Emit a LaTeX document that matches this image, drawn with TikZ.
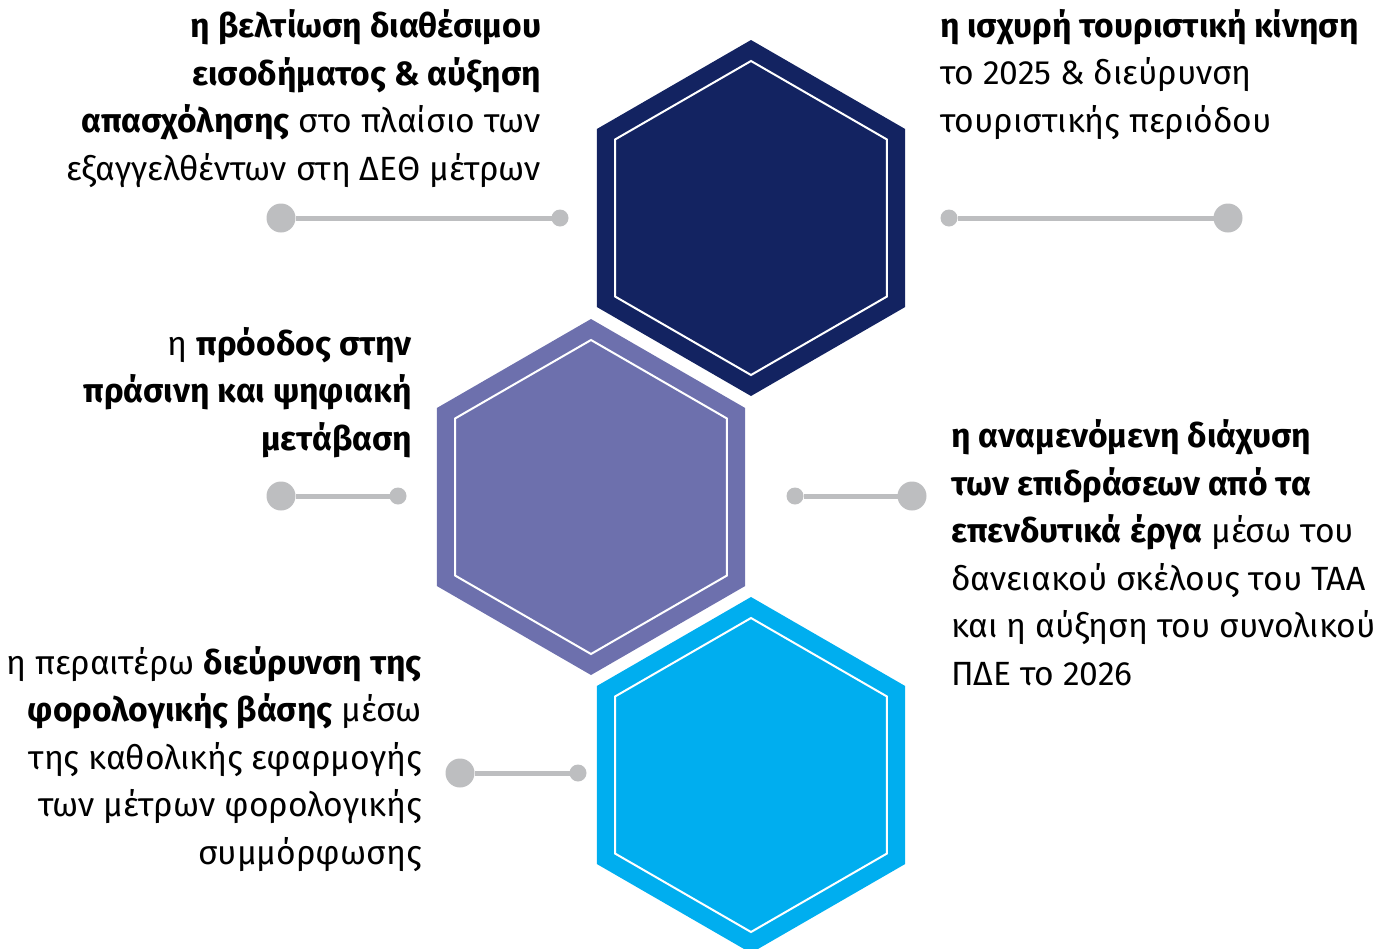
\documentclass[tikz,border=0pt]{standalone}
\usepackage{fontspec}
\setmainfont{Fira Sans}
\definecolor{hexnavy}{HTML}{132361}
\definecolor{hexpurple}{HTML}{6D70AD}
\definecolor{hexblue}{HTML}{00AEEF}
\definecolor{linkgray}{HTML}{BDBEC0}
\newcommand\drawhexagon[2]{%
  \fill[#2] (#1) +(90:178) -- +(30:178) -- +(-30:178) -- +(-90:178) -- +(-150:178) -- +(150:178) -- cycle;
  \draw[white, line width=2pt, line join=miter] (#1) +(90:157) -- +(30:157) -- +(-30:157) -- +(-90:157) -- +(-150:157) -- +(150:157) -- cycle;
}
\tikzset{
  bigdot/.style={circle, fill=linkgray, minimum size=29pt, inner sep=0pt, outer sep=0pt},
  smalldot/.style={circle, fill=linkgray, minimum size=17pt, inner sep=0pt, outer sep=0pt},
  link/.style={draw=linkgray, line width=5pt},
  txt/.style={inner sep=0pt, outer sep=0pt, font=\fontsize{33.6}{47.5}\selectfont}
}
\begin{document}
\begin{tikzpicture}[x=1pt,y=-1pt]
\useasboundingbox (0,0) rectangle (1383,948);
\clip (0,0) rectangle (1383,948);
\coordinate (c1) at (751,218);
\coordinate (c2) at (591,497);
\coordinate (c3) at (751,775);
\drawhexagon{c1}{hexnavy}
\drawhexagon{c2}{hexpurple}
\drawhexagon{c3}{hexblue}

\node[bigdot] (b1) at (281,218) {};
\node[smalldot] (s1) at (560,218) {};
\draw[link] (b1) -- (s1);
\node[smalldot] (s2) at (949,218) {};
\node[bigdot] (b2) at (1228,218) {};
\draw[link] (s2) -- (b2);
\node[bigdot] (b3) at (281,496) {};
\node[smalldot] (s3) at (398,496) {};
\draw[link] (b3) -- (s3);
\node[smalldot] (s4) at (795,496) {};
\node[bigdot] (b4) at (912,496) {};
\draw[link] (s4) -- (b4);
\node[bigdot] (b5) at (460,773) {};
\node[smalldot] (s5) at (578,773) {};
\draw[link] (b5) -- (s5);

% anchors are at the baseline of each block's last line
\node[txt, anchor=base east, align=right] (t1) at (541,180)
  {\textbf{η βελτίωση διαθέσιμου}\\\textbf{εισοδήματος \& αύξηση}\\\textbf{απασχόλησης} στο πλαίσιο των\\εξαγγελθέντων στη ΔΕΘ μέτρων};
\node[txt, anchor=base west, align=left] (t2) at (940,132)
  {\textbf{η ισχυρή τουριστική κίνηση}\\το 2025 \& διεύρυνση\\τουριστικής περιόδου};
\node[txt, anchor=base east, align=right] (t3) at (412,450)
  {η \textbf{πρόοδος στην}\\\textbf{πράσινη και ψηφιακή}\\\textbf{μετάβαση}};
\node[txt, anchor=base west, align=left] (t4) at (951,685)
  {\textbf{η αναμενόμενη διάχυση}\\\textbf{των επιδράσεων από τα}\\\textbf{επενδυτικά έργα} μέσω του\\δανειακού σκέλους του ΤΑΑ\\και η αύξηση του συνολικού\\ΠΔΕ το 2026};
\node[txt, anchor=base east, align=right] (t5) at (422,864)
  {η περαιτέρω \textbf{διεύρυνση της}\\\textbf{φορολογικής βάσης} μέσω\\της καθολικής εφαρμογής\\των μέτρων φορολογικής\\συμμόρφωσης};
\end{tikzpicture}
\end{document}
